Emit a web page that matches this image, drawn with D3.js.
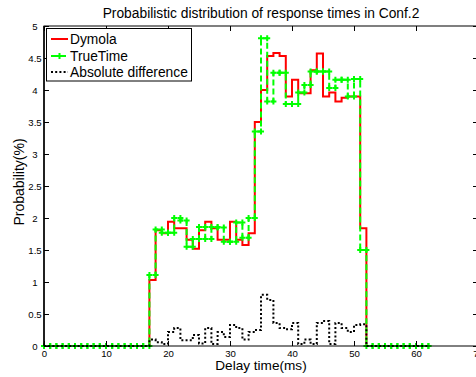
<!DOCTYPE html>
<html>
<head>
<meta charset="utf-8">
<script src="https://cdn.jsdelivr.net/npm/d3@7"></script>
<style>
  html, body { margin: 0; padding: 0; background: #fff; }
  svg { display: block; font-family: "Liberation Sans", Arial, Helvetica, sans-serif; }
</style>
</head>
<body>
<svg id="chart" width="476" height="377"></svg>
<script>
// ---- data (bins of 1 ms, starting at 0 ms) ----
const binStart = 0;
const dymola = [
  0,0,0,0,0,0,0,0,0,0,0,0,0,0,0,0,0,
  1.03,1.81,1.76,1.94,1.84,1.84,1.66,1.52,1.81,1.94,1.84,1.66,1.66,1.94,1.66,1.58,1.76,
  3.50,4.00,4.53,4.58,4.53,3.90,4.16,3.95,3.95,4.31,4.57,3.90,3.96,3.82,3.88,3.90,3.90,1.84,
  0,0,0,0,0,0,0,0,0,0,0
];
const truetime = [
  0,0,0,0,0,0,0,0,0,0,0,0,0,0,0,0,0,
  1.11,1.82,1.77,1.77,2.00,1.96,1.55,1.67,1.86,1.67,1.86,1.85,1.63,1.63,1.93,1.69,2.00,
  3.35,4.81,3.82,4.27,4.27,3.78,3.78,3.96,4.08,4.29,4.29,4.29,4.03,4.16,4.16,3.90,4.17,1.50,
  0,0,0,0,0,0,0,0,0,0,0
];
const absDiff = [
  0,0,0,0,0,0,0,0,0,0,0,0,0,0,0,0,0,
  0.10,0.06,0.03,0.22,0.28,0.09,0.09,0.17,0.04,0.28,0.03,0.22,0.14,0.33,0.28,0.10,0.22,
  0.25,0.80,0.72,0.36,0.28,0.26,0.36,0.03,0.10,0.03,0.36,0.39,0.03,0.36,0.28,0.22,0.33,0.34,
  0,0,0,0,0,0,0,0,0,0,0
];
const xTicks = [0,10,20,30,40,50,60,70];
const yTicks = [0,0.5,1,1.5,2,2.5,3,3.5,4,4.5,5];
const seriesNames = ["Dymola","TrueTime","Absolute difference"];
const titleText = "Probabilistic distribution of response times in Conf.2";
const xLabel = "Delay time(ms)";
const yLabel = "Probability(%)";

// ---- layout ----
const L = 44, R = 478, T = 26, B = 346;
const svg = d3.select("#chart");
svg.append("rect").attr("width",476).attr("height",377).attr("fill","#fff");

const x = d3.scaleLinear().domain([0,70]).range([L,R]);
const y = d3.scaleLinear().domain([0,5]).range([B,T]);

const toPts = vals => vals.map((v,i)=>[binStart+i, v]);
const stair = d3.line().x(d=>x(d[0])).y(d=>y(d[1])).curve(d3.curveStepAfter);

// series
svg.append("path").attr("d", stair(toPts(dymola)))
  .attr("fill","none").attr("stroke","#ff0000").attr("stroke-width",2);

svg.append("path").attr("d", stair(toPts(truetime)))
  .attr("fill","none").attr("stroke","#00ff00").attr("stroke-width",2)
  .attr("stroke-dasharray","6,3");

// markers at stair vertices
const tPts = toPts(truetime);
const verts = [];
tPts.forEach((p,i)=>{
  verts.push(p);
  if (i < tPts.length-1) verts.push([tPts[i+1][0], p[1]]);
});
const plus = "M-3,0H3M0,-3V3";
svg.append("g").selectAll("path").data(verts).join("path")
  .attr("transform", d=>`translate(${x(d[0])},${y(d[1])})`)
  .attr("d", plus).attr("stroke","#00ff00").attr("stroke-width",2).attr("fill","none");

svg.append("path").attr("d", stair(toPts(absDiff)))
  .attr("fill","none").attr("stroke","#000").attr("stroke-width",2)
  .attr("stroke-dasharray","2,2.2");

// axes
const fmt = d3.format("");
const gx = svg.append("g").attr("transform",`translate(0,${B})`)
  .call(d3.axisBottom(x).tickValues(xTicks).tickSizeInner(-5).tickSizeOuter(0).tickPadding(4).tickFormat(fmt));
const gxt = svg.append("g").attr("transform",`translate(0,${T})`)
  .call(d3.axisTop(x).tickValues(xTicks).tickSizeInner(-5).tickSizeOuter(0).tickFormat(""));
const gy = svg.append("g").attr("transform",`translate(${L},0)`)
  .call(d3.axisLeft(y).tickValues(yTicks).tickSizeInner(-5).tickSizeOuter(0).tickPadding(9).tickFormat(fmt));
const gyr = svg.append("g").attr("transform",`translate(${R},0)`)
  .call(d3.axisRight(y).tickValues(yTicks).tickSizeInner(-5).tickSizeOuter(0).tickFormat(""));

[gx,gxt,gy,gyr].forEach(g=>{
  g.select(".domain").remove();
  g.selectAll(".tick line").attr("stroke","#000").attr("stroke-width",1);
  g.selectAll("text").attr("font-size","9.6px").attr("fill","#000")
    .attr("font-family",'"Liberation Sans", Arial, Helvetica, sans-serif');
});
gy.selectAll("text").attr("text-anchor","middle").attr("x",-9);

svg.append("rect").attr("x",L).attr("y",T).attr("width",R-L).attr("height",B-T)
  .attr("fill","none").attr("stroke","#000").attr("stroke-width",1);
svg.append("line").attr("x1",L).attr("x2",L).attr("y1",T).attr("y2",B)
  .attr("stroke","#000").attr("stroke-width",1.5);

// title & labels
svg.append("text").attr("x",261).attr("y",18).attr("text-anchor","middle")
  .attr("font-size","13.8px").text(titleText);
svg.append("text").attr("x",261).attr("y",370).attr("text-anchor","middle")
  .attr("font-size","13.6px").text(xLabel);
svg.append("text").attr("transform","translate(24,182) rotate(-90)").attr("text-anchor","middle")
  .attr("font-size","14px").text(yLabel);

// legend
const lg = svg.append("g");
lg.append("rect").attr("x",46.5).attr("y",28.5).attr("width",145).attr("height",52.5)
  .attr("fill","#fff").attr("stroke","#000").attr("stroke-width",1);
const rows = [
  {name: seriesNames[0], y: 39, stroke: "#ff0000", dash: null, marker: false},
  {name: seriesNames[1], y: 56, stroke: "#00ff00", dash: "6,3", marker: true},
  {name: seriesNames[2], y: 72, stroke: "#000", dash: "2,2.2", marker: false}
];
rows.forEach(r=>{
  const ln = lg.append("line").attr("x1",51).attr("x2",68).attr("y1",r.y).attr("y2",r.y)
    .attr("stroke",r.stroke).attr("stroke-width",2);
  if (r.dash) ln.attr("stroke-dasharray",r.dash);
  if (r.marker) lg.append("path").attr("transform",`translate(59.5,${r.y})`).attr("d",plus)
    .attr("stroke",r.stroke).attr("stroke-width",2);
  lg.append("text").attr("x",70).attr("y",r.y+4.8).attr("font-size","13.8px").text(r.name);
});
</script>
</body>
</html>
